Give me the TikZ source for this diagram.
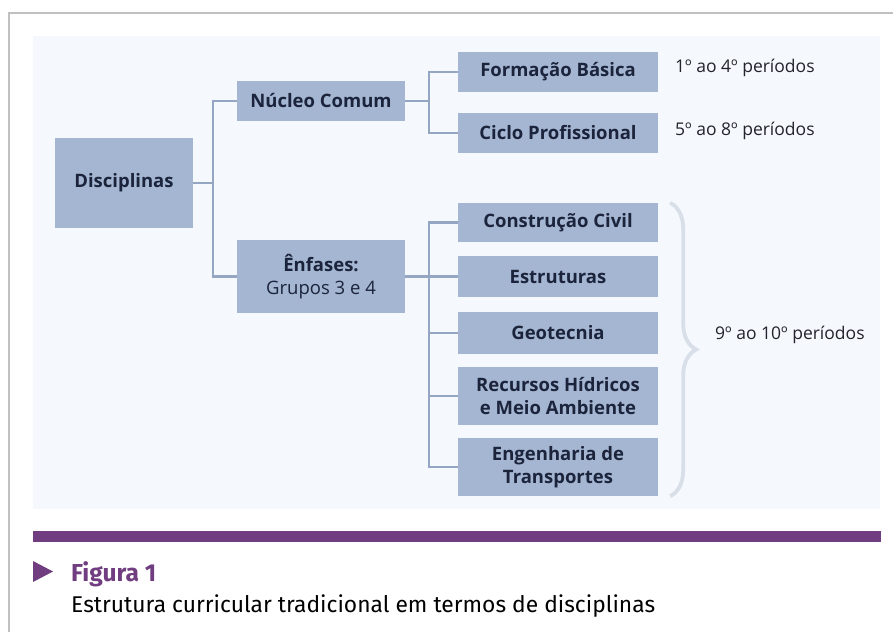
\documentclass[tikz,border=0pt]{standalone}
\usepackage{fontspec}
\setmainfont{Open Sans}
\newfontfamily\capfont{Fira Sans}
\usetikzlibrary{decorations.pathreplacing}
\definecolor{boxfill}{RGB}{164,182,210}
\definecolor{boxtext}{RGB}{28,36,60}
\definecolor{linkc}{RGB}{148,166,194}
\definecolor{panelbg}{RGB}{245,249,253}
\definecolor{framec}{RGB}{192,192,192}
\definecolor{purplec}{RGB}{112,62,128}
\definecolor{bracec}{RGB}{216,223,232}
\definecolor{periodc}{RGB}{35,35,45}
\begin{document}
\begin{tikzpicture}[x=1pt,y=-1pt,
  box/.style={fill=boxfill, text=boxtext, inner sep=0pt, align=center,
    font={\fontsize{18.5}{23}\selectfont\bfseries}},
  link/.style={draw=linkc, line width=2.2pt},
  period/.style={anchor=west, inner sep=0pt, text=periodc,
    font={\fontsize{17.5}{20}\selectfont}}
]
\useasboundingbox (0,0) rectangle (893,632);
\fill[white] (0,0) rectangle (893,632);
\draw[framec, line width=1.5pt] (9,632) -- (9,13) -- (893,13);
\fill[panelbg] (33,36) rectangle (880,509);

% boxes
\node[box, minimum width=138pt, minimum height=90pt] (disc) at (124,183) {Disciplinas};
\node[box, minimum width=168pt, minimum height=40pt] (nuc) at (321,101) {Núcleo Comum};
\node[box, minimum width=168pt, minimum height=73pt] (enf) at (321,276.5) {Ênfases:\\{\mdseries Grupos 3 e 4}};
\node[box, minimum width=200pt, minimum height=40pt] (form) at (558,72) {Formação Básica};
\node[box, minimum width=200pt, minimum height=40pt] (ciclo) at (558,133) {Ciclo Profissional};
\node[box, minimum width=200pt, minimum height=39pt] (cc) at (558,222.5) {Construção Civil};
\node[box, minimum width=200pt, minimum height=41pt] (est) at (558,276.5) {Estruturas};
\node[box, minimum width=200pt, minimum height=42pt] (geo) at (558,333) {Geotecnia};
\node[box, minimum width=200pt, minimum height=58pt] (rec) at (558,396) {Recursos Hídricos\\e Meio Ambiente};
\node[box, minimum width=200pt, minimum height=58pt] (eng) at (558,467) {Engenharia de\\Transportes};

% junctions
\coordinate (j1) at (213,183);
\coordinate (j2) at (429,101);
\coordinate (j3) at (429,276.5);

% connectors
\draw[link] (disc.east) -- (j1);
\draw[link] (nuc.west) -| (j1) |- (enf.west);
\draw[link] (nuc.east) -- (j2);
\draw[link] (form.west) -| (j2) |- (ciclo.west);
\draw[link] (enf.east) -- (j3);
\draw[link] (cc.west) -| (j3) |- (eng.west);
\draw[link] (est.west) -- (j3);
\draw[link] (geo.west) -- (geo.west -| j3);
\draw[link] (rec.west) -- (rec.west -| j3);

% brace
\draw[bracec, line width=3.8pt, decorate, decoration={brace, amplitude=26pt}]
  ([xshift=12pt]cc.north east) -- ([xshift=12pt]eng.south east);

% period labels
\node[period] (p1) at (675,68) {1º ao 4º períodos};
\node[period] (p2) at (675,131) {5º ao 8º períodos};
\node[period] (p3) at (715,335) {9º ao 10º períodos};

% caption
\fill[purplec] (33,531) rectangle (881,542);
\fill[purplec] (33,561) -- (53,571.5) -- (33,582) -- cycle;
\node[anchor=base west, inner sep=0pt, text=purplec,
  font={\capfont\fontsize{24.5}{28}\selectfont\bfseries}] (fig) at (71,581) {Figura 1};
\node[anchor=base west, inner sep=0pt, text=black,
  font={\capfont\fontsize{22.8}{26}\selectfont}] (cap) at (71,612)
  {Estrutura curricular tradicional em termos de disciplinas};
\end{tikzpicture}
\end{document}
